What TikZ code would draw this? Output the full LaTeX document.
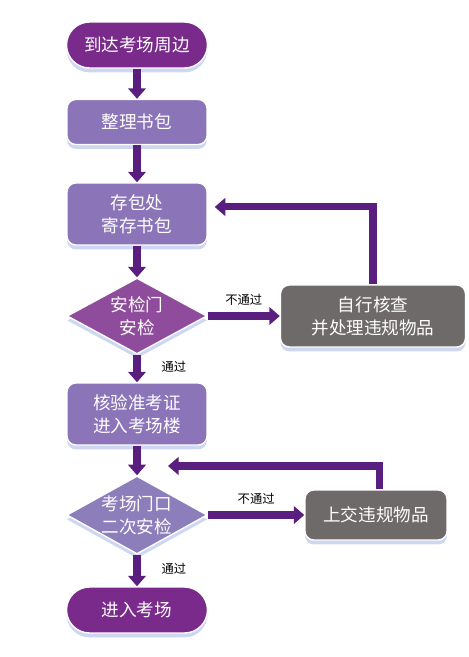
\documentclass[tikz,border=0pt]{standalone}
\usepackage{fontspec}
\setmainfont{Noto Sans CJK SC}
\usepackage{tikz}
\usetikzlibrary{arrows.meta}
\usetikzlibrary{positioning}
\usetikzlibrary{shapes.geometric}
\usetikzlibrary{shadows}
\definecolor{pdark}{HTML}{7A2A8A}
\definecolor{plight}{HTML}{8B74B8}
\definecolor{pmag}{HTML}{8F4C9C}
\definecolor{plav}{HTML}{8C7EBB}
\definecolor{parrow}{HTML}{5A1F7E}
\definecolor{gbox}{HTML}{6D6A69}
\definecolor{glow}{HTML}{C9D3F0}

\begin{document}
\begin{tikzpicture}[x=0.02cm,y=-0.02cm,
  every node/.style={text=white,font=\fontsize{10}{13}\selectfont,align=center},
  base/.style={draw=white,line width=0.8pt,drop shadow={shadow xshift=0pt,shadow yshift=-2.5pt,fill=glow,opacity=0.9}},
  pill/.style={base,fill=pdark,rounded corners=0.46cm,minimum width=2.82cm,minimum height=0.92cm},
  box/.style={base,fill=plight,rounded corners=5pt,minimum width=2.8cm},
  gate/.style={base,diamond,inner sep=0pt,shape aspect=1.8,minimum width=2.8cm,minimum height=1.52cm},
  grey/.style={base,fill=gbox,rounded corners=5pt},
  flow/.style={parrow,line width=4pt,-{Triangle[width=10pt,length=6pt]}},
  tag/.style={text=black,font=\fontsize{7}{8}\selectfont,inner sep=1pt}]
  \useasboundingbox (0,0) rectangle (469,657);
  \node [pill] (arrive) at (137,45) {到达考场周边};
  \node [box,minimum height=0.9cm] (pack) at (137,122) {整理书包};
  \node [box,minimum height=1.24cm] (store) at (137,214) {存包处\\寄存书包};
  \node [gate,fill=pmag] (gate1) at (137,316) {安检门\\安检};
  \node [grey,minimum width=3.7cm,minimum height=1.24cm] (check) at (373,316) {自行核查\\并处理违规物品};
  \node [box,minimum height=1.24cm] (ticket) at (137,414) {核验准考证\\进入考场楼};
  \node [gate,fill=plav] (gate2) at (137,515) {考场门口\\二次安检};
  \node [grey,minimum width=2.84cm,minimum height=1cm] (hand) at (376,515) {上交违规物品};
  \node [pill] (enter) at (137,610) {进入考场};
  \coordinate (back2) at (168,466);
  \draw[flow](arrive)--(pack);
  \draw[flow](pack)--(store);
  \draw[flow](store)--(gate1);
  \draw[flow](gate1)--node[tag,above=3pt]{不通过}(check);
  \draw[flow](check.north)|-([xshift=4pt,yshift=4pt]store.east);
  \draw[flow](gate1)--node[tag,right=11pt,pos=0.45]{通过}(ticket);
  \draw[flow](ticket)--(gate2);
  \draw[flow](gate2)--node[tag,above=3pt]{不通过}(hand);
  \draw[flow]([xshift=2pt]hand.north)|-(back2);
  \draw[flow](gate2)--node[tag,right=11pt,pos=0.45]{通过}(enter);
\end{tikzpicture}
\end{document}
